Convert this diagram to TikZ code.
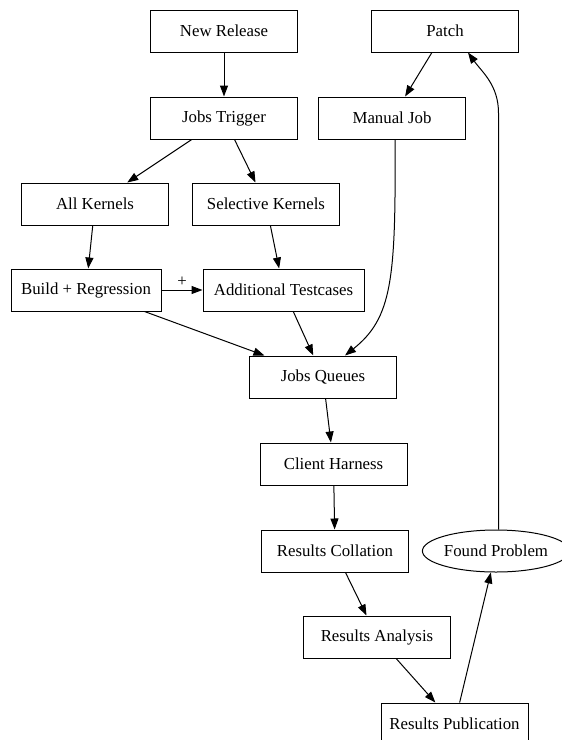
\documentclass[tikz,border=0pt]{standalone}
\usepackage{fontspec}
\setmainfont{Liberation Serif}
\usetikzlibrary{arrows.meta,shapes.geometric}

\begin{document}
\begin{tikzpicture}[x=1pt,y=-1pt,
  box/.style={draw,line width=1pt,minimum width=147pt,minimum height=42pt,inner sep=0pt,
    font=\fontsize{16.8}{18}\selectfont},
  oval/.style={box,ellipse,minimum width=134pt},
  arr/.style={-{Triangle[length=11pt,width=8pt]},line width=1pt}]
\useasboundingbox (0,0) rectangle (562,740);
\clip (0,0) rectangle (562,740);
% nodes
\node[box] (newrel) at (224,31) {New Release};
\node[box] (patch) at (445,31) {Patch};
\node[box] (trigger) at (224,118) {Jobs Trigger};
\node[box] (manual) at (392,118) {Manual Job};
\node[box] (allk) at (95,204) {All Kernels};
\node[box] (selk) at (266,204) {Selective Kernels};
\node[box,minimum width=150pt] (buildreg) at (86,290) {Build + Regression};
\node[box,minimum width=161pt] (addtest) at (283.5,290) {Additional Testcases};
\node[box] (queues) at (323,377) {Jobs Queues};
\node[box] (harness) at (333.5,464) {Client Harness};
\node[box] (collate) at (335,551) {Results Collation};
\node[box] (analysis) at (377,637) {Results Analysis};
\node[box] (publish) at (454.5,724) {Results Publication};
\node[oval] (found) at (496,551) {Found Problem};
\coordinate (upturn) at (498.5,113);
% edges
\draw[arr] (newrel) -- (trigger);
\draw[arr] (patch) -- (manual);
\draw[arr] (trigger) -- (allk);
\draw[arr] (trigger) -- (selk);
\draw[arr] (allk) -- (buildreg);
\draw[arr] (selk) -- (addtest);
\draw[arr] (buildreg) -- node[above,font=\fontsize{16.8}{18}\selectfont] (plus) {+} (addtest);
\draw[arr] (buildreg) -- (queues);
\draw[arr] (addtest) -- (queues);
\draw[arr] ([xshift=3pt]manual.south) .. controls (396,280) and (392,318) .. ([xshift=22pt]queues.north);
\draw[arr] (queues) -- (harness);
\draw[arr] (harness) -- (collate);
\draw[arr] (collate) -- (analysis);
\draw[arr] (analysis) -- (publish);
\draw[arr] (publish) -- (found);
\draw[arr] ([xshift=2.5pt]found.north) -- (upturn) .. controls (498.5,85) and (482,72) .. ([xshift=23pt]patch.south);
\end{tikzpicture}
\end{document}
